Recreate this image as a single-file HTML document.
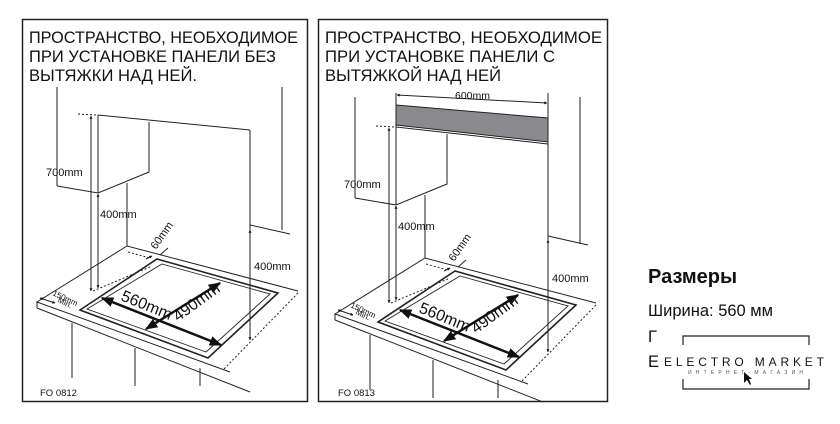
<!DOCTYPE html>
<html><head><meta charset="utf-8"><style>
html,body{margin:0;padding:0;background:#fff;}
svg{display:block;font-family:"Liberation Sans",sans-serif;}
</style></head><body>
<svg width="840" height="424" viewBox="0 0 840 424" xmlns="http://www.w3.org/2000/svg">
<defs>
<clipPath id="c1"><rect x="23" y="20" width="284" height="381"/></clipPath>
<clipPath id="c2"><rect x="319" y="20" width="288" height="381"/></clipPath>
<marker id="a" viewBox="0 0 10 10" refX="9" refY="5" markerWidth="5" markerHeight="5" orient="auto-start-reverse"><path d="M0,1 L10,5 L0,9 z" fill="#111"/></marker>
<marker id="b" viewBox="0 0 10 10" refX="9" refY="5" markerWidth="4" markerHeight="3" orient="auto-start-reverse"><path d="M0,0 L10,5 L0,10 z" fill="#111"/></marker>
<g id="lower" fill="none" stroke="#222" stroke-width="1">
  <line x1="127" y1="183" x2="127" y2="246"/>
  <polyline points="298,291 127,246 37,302 230,372"/>
  <line x1="37" y1="308" x2="250" y2="392"/>
  <line x1="37" y1="302" x2="37" y2="308"/>
  <line x1="72" y1="323" x2="72" y2="378"/>
  <line x1="135" y1="348" x2="135" y2="386"/>
  <line x1="200" y1="368" x2="200" y2="386"/>
  <line x1="298" y1="293" x2="223" y2="370" stroke-dasharray="2,2"/>
  <polygon points="157,259 278,293 208,358 80,310" stroke-width="1.6"/>
  <polygon points="162,264 270,294 206,352 87,309" stroke-width="0.9"/>
  <line x1="93" y1="291" x2="150" y2="267" stroke-dasharray="2,2"/>
  <line x1="128" y1="252" x2="150" y2="258" stroke-dasharray="2,2"/>
  <line x1="146" y1="259" x2="152" y2="256" marker-end="url(#b)"/>
  <line x1="168" y1="248" x2="160" y2="255"/>
  <line x1="40" y1="298" x2="55" y2="303" marker-start="url(#b)" marker-end="url(#b)"/>
  <line x1="102" y1="298" x2="221" y2="345" stroke="#111" stroke-width="2.5" marker-start="url(#a)" marker-end="url(#a)"/>
  <line x1="146" y1="329" x2="220" y2="283" stroke="#111" stroke-width="2.5" marker-start="url(#a)" marker-end="url(#a)"/>
  <line x1="91" y1="116" x2="91" y2="291" marker-start="url(#b)" marker-end="url(#b)"/>
  <line x1="98" y1="194" x2="98" y2="288" marker-start="url(#b)" marker-end="url(#b)"/>
  <line x1="78" y1="114" x2="97" y2="115" stroke-dasharray="2,2"/>
  <polyline points="57,186 98,193 149,172 149,122"/>
  <line x1="98" y1="115" x2="98" y2="193"/>
</g>
<g id="labels" font-size="11" fill="#111">
  <text x="46" y="176">700mm</text>
  <text x="100" y="218">400mm</text>
  <text x="254" y="270">400mm</text>
  <text x="0" y="0" transform="translate(156,250) rotate(-55)" font-size="11">60mm</text>
  <text x="0" y="0" transform="translate(52,295) rotate(25)" font-size="8">150mm</text>
  <text x="0" y="0" transform="translate(57,302) rotate(25)" font-size="8">Min.</text>
  <text x="0" y="0" transform="translate(120,300) rotate(22)" font-size="16">560mm</text>
  <text x="0" y="0" transform="translate(178,322) rotate(-36)" font-size="16">490mm</text>
</g>
</defs>
<rect x="22.5" y="19.5" width="285" height="382" fill="none" stroke="#222" stroke-width="1.5"/>
<rect x="318.5" y="19.5" width="289" height="382" fill="none" stroke="#222" stroke-width="1.5"/>
<g font-size="16.5" fill="#111">
<text x="29" y="43" textLength="269" lengthAdjust="spacingAndGlyphs">ПРОСТРАНСТВО, НЕОБХОДИМОЕ</text>
<text x="29" y="62" textLength="247" lengthAdjust="spacingAndGlyphs">ПРИ УСТАНОВКЕ ПАНЕЛИ БЕЗ</text>
<text x="29" y="81" textLength="168" lengthAdjust="spacingAndGlyphs">ВЫТЯЖКИ НАД НЕЙ.</text>
<text x="325" y="43" textLength="277" lengthAdjust="spacingAndGlyphs">ПРОСТРАНСТВО, НЕОБХОДИМОЕ</text>
<text x="325" y="62" textLength="230" lengthAdjust="spacingAndGlyphs">ПРИ УСТАНОВКЕ ПАНЕЛИ С</text>
<text x="325" y="81" textLength="176" lengthAdjust="spacingAndGlyphs">ВЫТЯЖКОЙ НАД НЕЙ</text>
</g>
<g clip-path="url(#c1)">
<use href="#lower"/>
<use href="#labels"/>
</g>
<g fill="none" stroke="#222" stroke-width="1">
  <line x1="57" y1="87" x2="57" y2="186"/>
  <line x1="98" y1="115" x2="250" y2="130"/>
  <line x1="250" y1="130" x2="250" y2="340"/>
  <line x1="250" y1="230" x2="250" y2="340" marker-start="url(#b)" marker-end="url(#b)"/>
  <line x1="282" y1="87" x2="282" y2="230"/>
  <line x1="250" y1="225" x2="290" y2="234"/>
</g>
<text x="40" y="396" font-size="9.5" fill="#111">FO 0812</text>
<g clip-path="url(#c2)">
<g transform="translate(298,12)">
  <use href="#lower"/>
  <use href="#labels"/>
</g>
</g>
<g fill="none" stroke="#222" stroke-width="1">
  <line x1="355" y1="97" x2="355" y2="198"/>
  <polygon points="396,105 548,118 548,142 396,125" fill="#8a8a8e"/>
  <line x1="396" y1="127" x2="548" y2="144"/>
  <line x1="396" y1="93" x2="396" y2="205"/>
  <line x1="548" y1="93" x2="548" y2="352"/>
  <line x1="397" y1="95" x2="547" y2="103" marker-start="url(#b)" marker-end="url(#b)"/>
  <line x1="548" y1="240" x2="548" y2="352" marker-start="url(#b)" marker-end="url(#b)"/>
  <line x1="580" y1="97" x2="580" y2="244"/>
  <line x1="548" y1="236" x2="588" y2="245"/>
</g>
<text x="455" y="99" font-size="10.5" fill="#111">600mm</text>
<text x="338" y="396" font-size="9.5" fill="#111">FO 0813</text>
<text x="648" y="283" font-size="20" font-weight="bold" fill="#111">Размеры</text>
<text x="648" y="316" font-size="16.5" fill="#111">Ширина: 560 мм</text>
<text x="648" y="342" font-size="16.5" fill="#111">Г</text>
<text x="648" y="367" font-size="16.5" fill="#111">E</text>
<rect x="662" y="335" width="170" height="56" fill="#fff"/>
<g fill="none" stroke="#222" stroke-width="1.2">
  <polyline points="683,345 683,336 809,336 809,345"/>
  <polyline points="683,379 683,389 809,389 809,379"/>
</g>
<text x="664" y="366" font-size="12" textLength="160" lengthAdjust="spacing" fill="#111">ELECTRO MARKET</text>
<text x="688" y="374" font-size="5" textLength="115" lengthAdjust="spacing" fill="#555">ИНТЕРНЕТ-МАГАЗИН</text>
<path d="M744,372 L744,383 L747,380 L750,385 L751,384 L749,379 L752,379 z" fill="#111"/>
</svg>
</body></html>
